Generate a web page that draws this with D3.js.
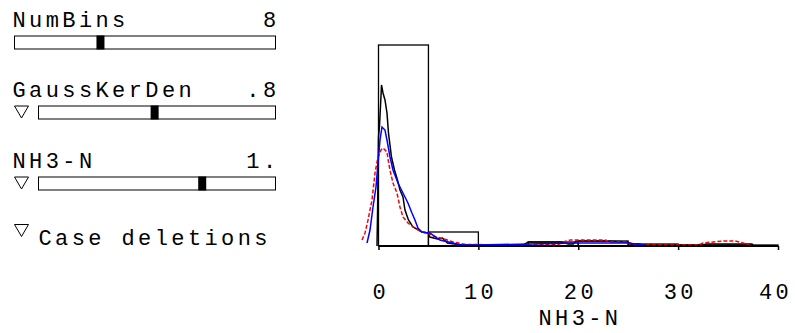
<!DOCTYPE html>
<html><head><meta charset="utf-8">
<script src="https://cdn.jsdelivr.net/npm/d3@7"></script>
<style>html,body{margin:0;padding:0;background:#fff;overflow:hidden}</style>
</head><body>
<svg id="chart" width="795" height="333"></svg>
<script>
// ---- data ----
const controlNames = ["NumBins", "GaussKerDen", "NH3-N"];
const controlValues = ["8", ".8", "1."];
const controlThumb = [0.33, 0.49, 0.69];   // thumb position fraction
const controlHasTri = [false, true, true];
const caseLabel = "Case deletions";

const xTicks = [0, 10, 20, 30, 40];
const xTitle = "NH3-N";

const binEdges = [0, 5, 10, 15, 20, 25, 30, 35, 40];
const binDensity = [0.201, 0.014, 0.001, 0.004, 0.005, 0.002, 0.001, 0.001];

const blackX = [-0.15,-0.1,0,0.1,0.25,0.3,0.45,0.65,0.85,1.0,1.3,1.6,1.9,2.15,2.45,2.65,3.0,3.45,4.35,4.95,5.15,5.9,6.4,6.9,7.6,8.5,11,14.5,15,18.3,19,19.5,19.8,22.7,24.9,25.3,26,26.5,32.5,32.8,37.4,37.6,40];
const blackY = [0,0.030,0.109,0.120,0.150,0.161,0.153,0.146,0.133,0.113,0.089,0.076,0.066,0.056,0.049,0.036,0.026,0.019,0.014,0.013,0.009,0.007,0.008,0.003,0.002,0.001,0.001,0.001,0.004,0.004,0.002,0.002,0.005,0.005,0.004,0.002,0.002,0.001,0.001,0.002,0.002,0,0];

const blueX = [-1.15,-0.85,-0.55,-0.25,-0.05,0.15,0.35,0.65,0.85,1.15,1.45,1.95,2.45,2.95,3.35,3.65,3.95,4.35,4.95,5.15,6.15,7.45,8.15,10,15,20,25,26.5,27];
const blueY = [0.003,0.016,0.039,0.059,0.083,0.106,0.119,0.116,0.106,0.089,0.076,0.063,0.053,0.043,0.033,0.026,0.018,0.014,0.013,0.013,0.006,0.003,0.001,0.001,0.002,0.003,0.003,0.001,0];

const redX = [-1.65,-1.35,-1.05,-0.65,-0.35,-0.05,0.25,0.45,0.85,1.0,1.15,1.45,1.85,2.15,2.45,2.95,3.65,4.35,4.95,5.5,6.9,7.5,8.5,9,15,18,18.5,19.2,22.7,23.2,24.9,25.5,26,32,32.5,34.5,35.7,36.5,37,37.5];
const redY = [0.006,0.013,0.026,0.046,0.073,0.089,0.096,0.098,0.094,0.084,0.076,0.063,0.053,0.039,0.029,0.023,0.018,0.014,0.013,0.010,0.006,0.004,0.002,0.0015,0.001,0.0015,0.004,0.006,0.006,0.004,0.004,0.002,0.001,0.001,0.003,0.005,0.005,0.003,0.001,0];

// ---- drawing ----
const svg = d3.select("#chart");
const FONT = "'Liberation Mono', 'Courier New', monospace";
const FS = 22, LS = 3.4;

const x = d3.scaleLinear().domain([0, 40]).range([378.5, 778]);
const y = d3.scaleLinear().domain([0, 0.232]).range([246, 14]);

// controls panel
const ctlTop = [27, 97, 168];
controlNames.forEach((name, i) => {
  const base = ctlTop[i];
  svg.append("text").attr("x", 12.5).attr("y", base)
    .attr("font-family", FONT).attr("font-size", FS).attr("letter-spacing", LS)
    .attr("fill", "#000").text(name);
  const v = controlValues[i];
  svg.append("text").attr("x", 278 - v.length * (FS * 0.6 + LS) + 1.5).attr("y", base)
    .attr("font-family", FONT).attr("font-size", FS).attr("letter-spacing", LS)
    .attr("fill", "#000").text(v);
  const sx0 = controlHasTri[i] ? 38 : 14, sx1 = 276;
  const sy = base + 8.5, sh = 14;
  svg.append("rect").attr("x", sx0 + 0.5).attr("y", sy + 0.5)
    .attr("width", sx1 - sx0 - 1).attr("height", sh - 1)
    .attr("fill", "#fff").attr("stroke", "#000").attr("stroke-width", 1);
  const tx = sx0 + (sx1 - sx0) * controlThumb[i];
  svg.append("rect").attr("x", tx - 4).attr("y", sy).attr("width", 8).attr("height", sh).attr("fill", "#000");
  if (controlHasTri[i]) {
    svg.append("path").attr("d", `M14.5,${sy + 0.5} L28.5,${sy + 0.5} L21.5,${sy + 12.5} Z`)
      .attr("fill", "none").attr("stroke", "#000").attr("stroke-width", 1);
  }
});
svg.append("path").attr("d", "M14.5,224.5 L28.5,224.5 L21.5,236.5 Z")
  .attr("fill", "none").attr("stroke", "#000").attr("stroke-width", 1);
svg.append("text").attr("x", 38.5).attr("y", 245)
  .attr("font-family", FONT).attr("font-size", FS).attr("letter-spacing", LS)
  .attr("fill", "#000").text(caseLabel);

// histogram
const bins = binDensity.map((d, i) => ({ x0: binEdges[i], x1: binEdges[i + 1], d }));
svg.append("g").selectAll("rect").data(bins).join("rect")
  .attr("x", b => x(b.x0)).attr("y", b => y(b.d))
  .attr("width", b => x(b.x1) - x(b.x0)).attr("height", b => y(0) - y(b.d))
  .attr("fill", "none").attr("stroke", "#000").attr("stroke-width", 1.3);

// density curves
const line = d3.line().x(d => x(d[0])).y(d => y(d[1]));
const series = [
  { xs: blackX, ys: blackY, color: "#000", dash: null, w: 1.5 },
  { xs: redX, ys: redY, color: "#ff0000", dash: "4,2", w: 1.5 },
  { xs: blueX, ys: blueY, color: "#0000ff", dash: null, w: 1.5 }
];
series.forEach(s => {
  svg.append("path").datum(s.xs.map((v, i) => [v, s.ys[i]]))
    .attr("d", line).attr("fill", "none").attr("stroke", s.color)
    .attr("stroke-width", s.w).attr("stroke-dasharray", s.dash);
});

// axis
const axis = d3.axisBottom(x).tickValues(xTicks).tickSize(4).tickPadding(0).tickFormat(d3.format("d"));
const gA = svg.append("g").attr("transform", "translate(0,246)").call(axis);
gA.select(".domain").attr("stroke", "#000").attr("stroke-width", 2).attr("d", `M${x(0)},0H${x(40)}`);
gA.selectAll(".tick line").attr("stroke", "#000").attr("stroke-width", 1.5);
gA.selectAll(".tick text").attr("font-family", FONT).attr("font-size", FS)
  .attr("letter-spacing", LS).attr("dx", d => d === 40 ? -3 : LS / 2).attr("y", 0).attr("dy", 0)
  .attr("transform", "translate(0,53)").attr("fill", "#000");
svg.append("text").attr("x", x(20) + LS / 2).attr("y", 325).attr("text-anchor", "middle")
  .attr("font-family", FONT).attr("font-size", FS).attr("letter-spacing", LS)
  .attr("fill", "#000").text(xTitle);
</script>
</body></html>
